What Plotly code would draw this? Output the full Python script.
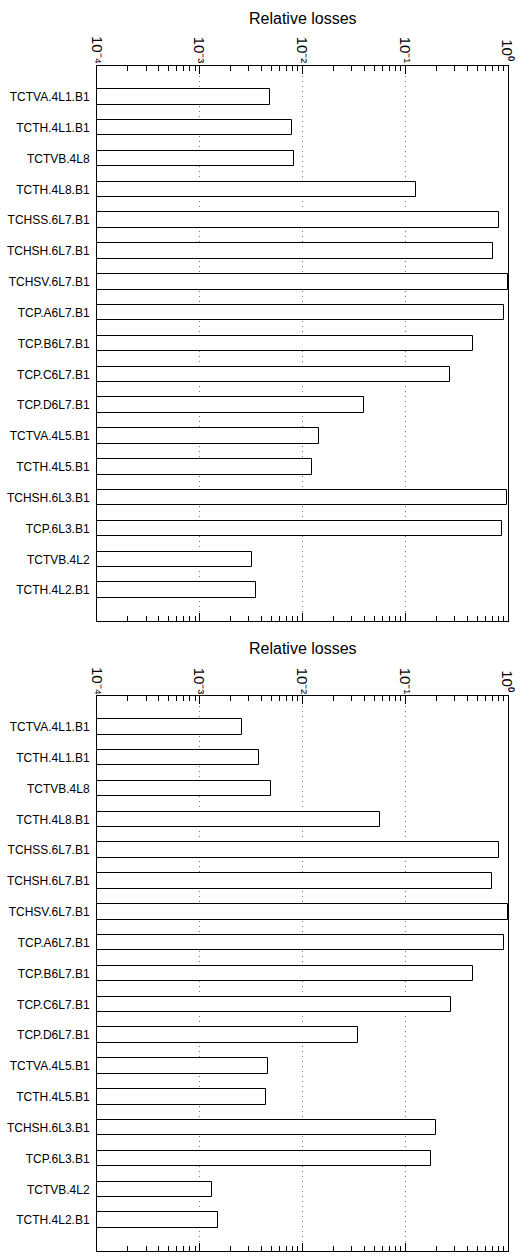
import math
import plotly.graph_objects as go

collimators = [
    "TCTVA.4L1.B1", "TCTH.4L1.B1", "TCTVB.4L8", "TCTH.4L8.B1",
    "TCHSS.6L7.B1", "TCHSH.6L7.B1", "TCHSV.6L7.B1", "TCP.A6L7.B1",
    "TCP.B6L7.B1", "TCP.C6L7.B1", "TCP.D6L7.B1", "TCTVA.4L5.B1",
    "TCTH.4L5.B1", "TCHSH.6L3.B1", "TCP.6L3.B1", "TCTVB.4L2", "TCTH.4L2.B1",
]

losses_top = [
    4.87e-3, 7.96e-3, 8.27e-3, 0.128,
    0.824, 0.719, 1.0, 0.908,
    0.456, 0.272, 0.0400, 0.0145,
    0.0124, 0.978, 0.867, 3.25e-3, 3.55e-3,
]

losses_bottom = [
    2.56e-3, 3.78e-3, 4.98e-3, 0.0572,
    0.817, 0.704, 1.0, 0.914,
    0.456, 0.279, 0.0349, 4.58e-3,
    4.45e-3, 0.201, 0.179, 1.33e-3, 1.51e-3,
]

decade_vals = [1e-4, 1e-3, 1e-2, 1e-1, 1e0]
decade_text = ["10⁻⁴", "10⁻³", "10⁻²", "10⁻¹", "10⁰"]

positions = list(range(1, len(collimators) + 1))
FONT = "Liberation Sans, Arial, sans-serif"

fig = go.Figure()

for i, losses in enumerate([losses_top, losses_bottom]):
    sfx = "" if i == 0 else "2"
    fig.add_trace(go.Bar(
        x=losses, y=positions, orientation="h", width=0.5,
        marker=dict(color="white", line=dict(color="black", width=1)),
        xaxis="x" + sfx, yaxis="y" + sfx, showlegend=False,
    ))

H = 1256
top_m, bot_m = 66, 5
plot_h = H - top_m - bot_m


def frac(px):
    return (H - bot_m - px) / plot_h


domains = [[frac(621), 1.0], [0.0, frac(696)]]

xaxis_common = dict(
    type="log", range=[-4, 0], side="top",
    tickmode="array", tickvals=decade_vals, showticklabels=False,
    ticks="inside", ticklen=8, tickcolor="black",
    showline=True, linecolor="black", linewidth=1, mirror="allticks",
    showgrid=True, gridcolor="#777777", griddash="1px,4px", gridwidth=1,
    minor=dict(ticks="inside", ticklen=5, tickcolor="black", dtick="D1",
               showgrid=False),
    zeroline=False, domain=[0, 1],
)
yaxis_common = dict(
    range=[18, 0], tickmode="array", tickvals=positions, ticktext=collimators,
    ticks="", showline=True, linecolor="black", linewidth=1, mirror=True,
    showgrid=False, zeroline=False, ticklabelstandoff=4,
    tickfont=dict(family=FONT, size=12, color="black"),
)

fig.update_layout(
    xaxis=dict(anchor="y", **xaxis_common),
    yaxis=dict(anchor="x", domain=domains[0], **yaxis_common),
    xaxis2=dict(anchor="y2", **xaxis_common),
    yaxis2=dict(anchor="x2", domain=domains[1], **yaxis_common),
    width=522, height=H,
    margin=dict(l=97, r=14, t=top_m, b=bot_m),
    plot_bgcolor="white", paper_bgcolor="white",
    bargap=0,
)

# Axis titles and decade labels above each panel
for sfx, title_y, label_y in [("", 18, 45), ("2", 648, 675)]:
    fig.add_annotation(
        text="Relative losses", xref="paper", yref="paper",
        x=0.5, y=frac(title_y), xanchor="center", yanchor="middle",
        showarrow=False, font=dict(family=FONT, size=16, color="black"),
    )
    for val, txt in zip(decade_vals, decade_text):
        fig.add_annotation(
            text=txt, xref="x" + sfx, yref="paper",
            x=math.log10(val), y=frac(label_y),
            xanchor="center", yanchor="middle",
            showarrow=False, font=dict(family=FONT, size=15, color="black"),
        )

# Set the decade labels in vertical writing mode so they read downward
post = """
var gd = document.getElementById('{plot_id}');
gd.querySelectorAll('text.annotation-text').forEach(function(t) {
  var s = t.getAttribute('data-unformatted') || t.textContent;
  if (s.indexOf('10') === 0) {
    t.style.writingMode = 'vertical-rl';
    t.setAttribute('writing-mode', 'tb');
  }
});
"""

fig.write_html("out.html", post_script=post)
